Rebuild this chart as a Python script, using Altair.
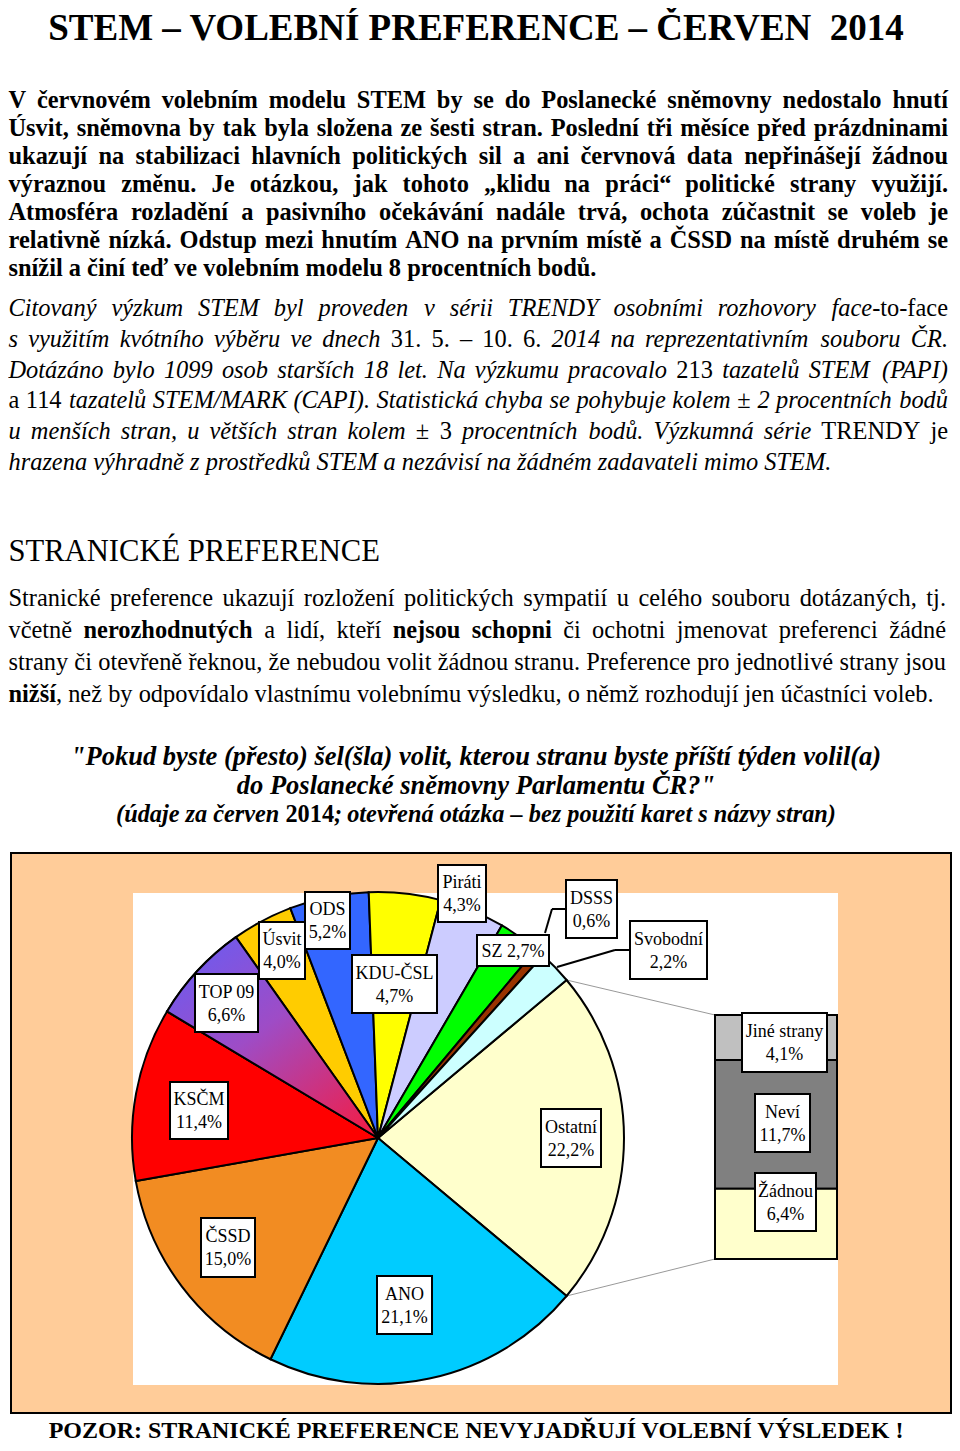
import math
import unicodedata
import pandas as pd
import altair as alt

# ---------------- data ----------------
pie_parties = ["Ostatní", "ANO", "ČSSD", "KSČM", "TOP 09", "Úsvit", "ODS",
               "KDU-ČSL", "Piráti", "SZ", "DSSS", "Svobodní"]
pie_values = [22.2, 21.1, 15.0, 11.4, 6.6, 4.0, 5.2, 4.7, 4.3, 2.7, 0.6, 2.2]
pie_colors = ["#FFFFCC", "#00CCFF", "#F28C22", "#FF0000", "#A04FC0", "#FFCC00",
              "#3366FF", "#FFFF00", "#CCCCFF", "#00FF00", "#993300", "#CCFFFF"]

bar_groups = ["Jiné strany", "Neví", "Žádnou"]
bar_values = [4.1, 11.7, 6.4]
bar_colors = ["#C0C0C0", "#808080", "#FFFFCC"]

# ---------------- layout (page coordinates) ----------------
OFF = 8
W, H = 944, 1435
FONT = "Liberation Serif"
LM, RM = 8.5, 948
FS = 24.4
CX, CY, R = 378, 1138, 246
BAR_X0, BAR_X1, BAR_Y0, BAR_Y1 = 715, 837, 1015, 1259

label_boxes = {
    "Ostatní": (541, 1109, 601, 1167),
    "ANO": (377, 1276, 432, 1334),
    "ČSSD": (201, 1218, 255, 1277),
    "KSČM": (170, 1082, 228, 1139),
    "TOP 09": (195, 974, 258, 1032),
    "Úsvit": (259, 922, 305, 979),
    "ODS": (305, 892, 350, 949),
    "KDU-ČSL": (352, 955, 437, 1013),
    "Piráti": (438, 865, 486, 922),
    "SZ": (477, 935, 549, 966),
    "DSSS": (566, 880, 617, 938),
    "Svobodní": (630, 921, 707, 979),
    "Jiné strany": (742, 1013, 827, 1072),
    "Neví": (755, 1094, 810, 1152),
    "Žádnou": (755, 1173, 816, 1231),
}

# ---------------- approximate Times metrics for justification ----------------
LOW = {
    "r": [444,500,444,500,444,333,500,500,278,278,500,278,778,500,500,500,500,333,389,278,500,500,722,500,500,444],
    "b": [500,556,444,556,444,333,500,556,278,333,556,278,833,556,500,556,556,444,389,333,556,500,722,500,500,444],
    "i": [500,500,444,500,444,278,500,500,278,278,444,278,722,500,500,500,500,389,389,278,500,444,667,444,444,389],
    "bi": [500,500,444,500,444,333,500,556,278,278,500,278,778,556,500,500,500,389,389,278,556,444,667,500,444,389],
}
UP = {
    "r": [722,667,667,722,611,556,722,722,333,389,722,611,889,722,722,556,722,667,556,611,722,722,944,722,722,611],
    "b": [722,667,722,722,667,611,778,778,389,500,778,667,944,722,778,611,778,722,556,667,722,722,1000,722,722,667],
    "i": [611,611,667,722,611,611,722,722,333,444,667,556,833,667,722,611,722,611,500,556,722,611,833,611,556,556],
    "bi": [667,667,667,722,667,667,722,778,389,500,667,611,889,722,722,611,722,667,556,611,722,667,889,667,611,611],
}
PUNCT = {".": 250, ",": 250, ":": 290, ";": 290, "(": 333, ")": 333, "-": 333,
         "–": 500, '"': 420, "„": 444, "“": 444, "?": 444, "/": 278, "±": 564,
         "!": 333, "%": 900, "’": 333}


def cw(ch, st):
    if ch == " ":
        return 250
    if ch.isdigit():
        return 500
    base = unicodedata.normalize("NFD", ch)[0]
    extra = 90 if ch in "ďť" else 0
    if "a" <= base <= "z":
        return LOW[st][ord(base) - 97] + extra
    if "A" <= base <= "Z":
        return UP[st][ord(base) - 65]
    return PUNCT.get(base, 500)


def tw(text, st):
    return sum(cw(c, st) for c in text)


text_rows = []


def place(runs, y, fs, mode="left", left=LM, right=RM, center=476):
    if isinstance(runs, str):
        runs = [(runs, "r")]
    styles = {st for _, st in runs}
    if len(styles) == 1 and mode in ("left", "center"):
        txt = "".join(t for t, _ in runs)
        text_rows.append(dict(x=(left if mode == "left" else center) - OFF, y=y - OFF,
                              text=txt, fs=fs, style=runs[0][1], align=mode))
        return
    words, cur = [], []
    for t, st in runs:
        parts = t.split(" ")
        for i, p in enumerate(parts):
            if i > 0 and cur:
                words.append(cur)
                cur = []
            if p:
                cur.append((p, st))
    if cur:
        words.append(cur)
    widths = [sum(tw(t, st) for t, st in w) * fs / 1000 for w in words]
    n = len(words)
    if mode == "justify":
        gap = (right - left - sum(widths)) / (n - 1)
        x = left
    else:
        gap = 250 * fs / 1000
        total = sum(widths) + gap * (n - 1)
        x = left if mode == "left" else center - total / 2
    for i, (w, wd) in enumerate(zip(words, widths)):
        if mode == "justify" and i == n - 1 and len(w) == 1:
            text_rows.append(dict(x=right - OFF, y=y - OFF, text=w[0][0], fs=fs,
                                  style=w[0][1], align="right"))
        else:
            xx = x
            for t, st in w:
                text_rows.append(dict(x=xx - OFF, y=y - OFF, text=t, fs=fs,
                                      style=st, align="left"))
                xx += tw(t, st) * fs / 1000
        x += wd + gap


# Title
place([("STEM – VOLEBNÍ PREFERENCE – ČERVEN\u00a0 2014", "b")], 40, 37, mode="center")

# Paragraph 1 (bold, justified)
p1 = [
    "V červnovém volebním modelu STEM by se do Poslanecké sněmovny nedostalo hnutí",
    "Úsvit, sněmovna by tak byla složena ze šesti stran. Poslední tři měsíce před prázdninami",
    "ukazují na stabilizaci hlavních politických sil a ani červnová data nepřinášejí žádnou",
    "výraznou změnu. Je otázkou, jak tohoto „klidu na práci“ politické strany využijí.",
    "Atmosféra rozladění a pasivního očekávání nadále trvá, ochota zúčastnit se voleb je",
    "relativně nízká. Odstup mezi hnutím ANO na prvním místě a ČSSD na místě druhém se",
]
for k, line in enumerate(p1):
    place([(line, "b")], 108 + 28 * k, FS, mode="justify")
place([("snížil a činí teď ve volebním modelu 8 procentních bodů.", "b")], 108 + 28 * 6, FS)

# Paragraph 2 (italic, justified)
p2 = [
    [("Citovaný výzkum STEM byl proveden v sérii TRENDY osobními rozhovory face", "i"), ("-to-face", "r")],
    [("s využitím kvótního výběru ve dnech ", "i"), ("31. 5. – 10. 6. ", "r"),
     ("2014 na reprezentativním souboru ČR.", "i")],
    [("Dotázáno bylo 1099 osob starších 18 let. Na výzkumu pracovalo ", "i"), ("213 ", "r"),
     ("tazatelů STEM (PAPI)", "i")],
    [("a 114 ", "r"), ("tazatelů STEM/MARK (CAPI). Statistická chyba se pohybuje kolem ", "i"),
     ("± ", "r"), ("2 procentních bodů", "i")],
    [("u menších stran, u větších stran kolem ", "i"), ("± 3 ", "r"),
     ("procentních bodů. Výzkumná série ", "i"), ("TRENDY ", "r"), ("je", "r")],
]
for k, runs in enumerate(p2):
    place(runs, 316 + 30.8 * k, FS, mode="justify")
place([("hrazena výhradně z prostředků STEM a nezávisí na žádném zadavateli mimo STEM.", "i")],
      316 + 30.8 * 5, FS)

# Section heading
place([("STRANICKÉ PREFERENCE", "r")], 561, 30.6)

# Paragraph 4 (regular, justified, bold words)
p4 = [
    [("Stranické preference ukazují rozložení politických sympatií u celého souboru dotázaných, tj.", "r")],
    [("včetně ", "r"), ("nerozhodnutých", "b"), (" a lidí, kteří ", "r"), ("nejsou schopni", "b"),
     (" či ochotni jmenovat preferenci žádné", "r")],
    [("strany či otevřeně řeknou, že nebudou volit žádnou stranu. Preference pro jednotlivé strany jsou", "r")],
]
for k, runs in enumerate(p4):
    place(runs, 606 + 32 * k, FS, mode="justify", right=946)
place([("nižší", "b"), (", než by odpovídalo vlastnímu volebnímu výsledku, o němž rozhodují jen účastníci voleb.", "r")],
      606 + 32 * 3, FS)

# Question
place([('"Pokud byste (přesto) šel(šla) volit, kterou stranu byste příští týden volil(a)', "bi")], 765, 26.5, mode="center")
place([('do Poslanecké sněmovny Parlamentu ČR?"', "bi")], 794, 26.5, mode="center")
place([("(údaje za červen ", "bi"), ("2014", "b"),
       ("; otevřená otázka – bez použití karet s názvy stran)", "bi")], 822, 24.3, mode="center")

# Footer
place([("POZOR: STRANICKÉ PREFERENCE NEVYJADŘUJÍ VOLEBNÍ VÝSLEDEK !", "b")], 1438, 24, mode="center")

# ---------------- chart label texts ----------------
def pct(v):
    return f"{v:.1f}".replace(".", ",") + "%"

label_vals = dict(zip(pie_parties, pie_values))
label_vals.update(dict(zip(bar_groups, bar_values)))
box_rows, lab_rows = [], []
for name, (x0, y0, x1, y1) in label_boxes.items():
    box_rows.append(dict(x=x0 - OFF, x2=x1 - OFF, y=y0 - OFF, y2=y1 - OFF))
    cx, cy = (x0 + x1) / 2, (y0 + y1) / 2
    if name == "SZ":
        lab_rows.append(dict(x=cx - OFF, y=cy + 6 - OFF, text=f"{name} {pct(label_vals[name])}",
                             fs=18, style="r", align="center"))
    else:
        lab_rows.append(dict(x=cx - OFF, y=cy - 5.5 - OFF, text=name, fs=18, style="r", align="center"))
        lab_rows.append(dict(x=cx - OFF, y=cy + 17.5 - OFF, text=pct(label_vals[name]), fs=18,
                             style="r", align="center"))
text_rows.extend(lab_rows)

# ---------------- pie / bar data frames ----------------
pie_df = pd.DataFrame({"party": pie_parties, "value": pie_values})
pie_df["end"] = pie_df["value"].cumsum()
pie_df["start"] = pie_df["end"] - pie_df["value"]
a0 = math.radians(90 - pie_values[0] * 3.6 / 2)
theta_scale = alt.Scale(domain=[0, 100], range=[a0, a0 + 2 * math.pi])

bar_df = pd.DataFrame({"group": bar_groups, "value": bar_values})
bar_df["b1"] = bar_df["value"].cumsum()
bar_df["b0"] = bar_df["b1"] - bar_df["value"]
bar_total = float(sum(bar_values))

# connectors from the "Ostatní" slice to the bar
a_start = a0
a_end = a0 + math.radians(pie_values[0] * 3.6)
conn = pd.DataFrame([
    dict(x=CX + R * math.sin(a_start) - OFF, y=CY - R * math.cos(a_start) - OFF,
         x2=BAR_X0 - OFF, y2=BAR_Y0 - OFF),
    dict(x=CX + R * math.sin(a_end) - OFF, y=CY - R * math.cos(a_end) - OFF,
         x2=BAR_X0 - OFF, y2=BAR_Y1 - OFF),
])
leaders = pd.DataFrame([
    dict(x=566 - OFF, y=909 - OFF, x2=552 - OFF, y2=909 - OFF),
    dict(x=552 - OFF, y=909 - OFF, x2=545 - OFF, y2=933 - OFF),
    dict(x=630 - OFF, y=950 - OFF, x2=615 - OFF, y2=950 - OFF),
    dict(x=615 - OFF, y=950 - OFF, x2=557 - OFF, y2=967 - OFF),
])
frames = pd.DataFrame([
    dict(x=11 - OFF, x2=951 - OFF, y=853 - OFF, y2=1413 - OFF, kind="outer"),
    dict(x=133 - OFF, x2=838 - OFF, y=893 - OFF, y2=1385 - OFF, kind="inner"),
])

PX = lambda f: alt.X(f"{f}:Q", scale=None, axis=None)
PY = lambda f: alt.Y(f"{f}:Q", scale=None, axis=None)

layers = []
layers.append(alt.Chart(frames[frames.kind == "outer"]).mark_rect(
    fill="#FFCC99", stroke="black", strokeWidth=2).encode(
    x=PX("x"), x2="x2:Q", y=PY("y"), y2="y2:Q"))
layers.append(alt.Chart(frames[frames.kind == "inner"]).mark_rect(fill="white").encode(
    x=PX("x"), x2="x2:Q", y=PY("y"), y2="y2:Q"))
layers.append(alt.Chart(conn).mark_rule(color="#999999", strokeWidth=1).encode(
    x=PX("x"), x2="x2:Q", y=PY("y"), y2="y2:Q"))

layers.append(alt.Chart(pie_df).mark_arc(radius=R, stroke="black", strokeWidth=2).encode(
    theta=alt.Theta("start:Q", scale=theta_scale),
    theta2="end:Q",
    color=alt.Color("party:N", scale=alt.Scale(domain=pie_parties, range=pie_colors), legend=None),
    x=alt.value(CX - OFF), y=alt.value(CY - OFF)))

grad = alt.LinearGradient(
    gradient="linear",
    stops=[alt.GradientStop(offset=0, color="#6A5CF2"),
           alt.GradientStop(offset=0.45, color="#9E4CC6"),
           alt.GradientStop(offset=1, color="#F01E4A")],
    x1=0.1, y1=0, x2=0.9, y2=1)
layers.append(alt.Chart(pie_df[pie_df.party == "TOP 09"]).mark_arc(
    radius=R, stroke="black", strokeWidth=2, fill=grad).encode(
    theta=alt.Theta("start:Q", scale=theta_scale),
    theta2="end:Q",
    x=alt.value(CX - OFF), y=alt.value(CY - OFF)))

layers.append(alt.Chart(bar_df).mark_rect(stroke="black", strokeWidth=2).encode(
    y=alt.Y("b0:Q", scale=alt.Scale(domain=[0, bar_total], range=[BAR_Y0 - OFF, BAR_Y1 - OFF],
                                    nice=False, zero=False), axis=None),
    y2="b1:Q",
    x=alt.value(BAR_X0 - OFF), x2=alt.value(BAR_X1 - OFF),
    color=alt.Color("group:N", scale=alt.Scale(domain=bar_groups, range=bar_colors), legend=None)))

layers.append(alt.Chart(leaders).mark_rule(color="black", strokeWidth=2).encode(
    x=PX("x"), x2="x2:Q", y=PY("y"), y2="y2:Q"))
layers.append(alt.Chart(pd.DataFrame(box_rows)).mark_rect(
    fill="white", stroke="black", strokeWidth=2).encode(
    x=PX("x"), x2="x2:Q", y=PY("y"), y2="y2:Q"))

tdf = pd.DataFrame(text_rows)
STY = {"r": ("normal", "normal"), "b": ("bold", "normal"),
       "i": ("normal", "italic"), "bi": ("bold", "italic")}
for (st, al), sub in tdf.groupby(["style", "align"]):
    fw, fst = STY[st]
    layers.append(alt.Chart(sub).mark_text(
        align=al, baseline="alphabetic", font=FONT, fontWeight=fw, fontStyle=fst,
        color="black").encode(
        x=PX("x"), y=PY("y"), text="text:N",
        size=alt.Size("fs:Q", scale=None, legend=None)))

chart = alt.layer(*layers).resolve_scale(
    x="independent", y="independent", color="independent", theta="independent",
    size="independent").properties(
    width=W, height=H, padding=0,
    autosize=alt.AutoSizeParams(type="none"),
    background="white").configure_view(stroke=None)

chart.save("out.html", embed_options={"renderer": "svg", "actions": False})
